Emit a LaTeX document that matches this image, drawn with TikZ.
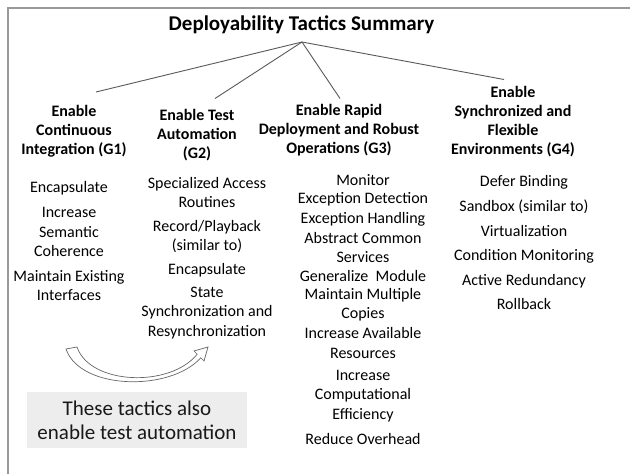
\documentclass[tikz,border=0pt]{standalone}
\usepackage{fontspec}
\setmainfont{Carlito}
\begin{document}
\begin{tikzpicture}[x=1pt,y=-1pt,
  ttl/.style={font=\fontsize{21}{25}\selectfont\bfseries, inner sep=0},
  hdr/.style={font=\fontsize{16}{18.8}\selectfont\bfseries, align=center, inner sep=0},
  itm/.style={font=\fontsize{16}{19.5}\selectfont, align=center, inner sep=0},
  conn/.style={draw=black!65, line width=0.9pt},
  framel/.style={draw=black!40, line width=2pt},
  notebox/.style={fill=black!7, minimum width=220pt, minimum height=56pt, inner sep=0,
     font=\fontsize{21}{24}\selectfont, align=center, text=black!90},
  curvedarrow/.style={draw=black!60, line width=0.7pt, fill=white}]
\useasboundingbox (0,0) rectangle (630,474);
\fill[white] (0,0) rectangle (630,474);
\draw[framel] (7.5,474) -- (7.5,7.5) -- (630,7.5);

\node[ttl] (title) at (301.5,25) {Deployability Tactics Summary};
\coordinate (apex) at (302,42);
\coordinate (e1) at (96,92);
\coordinate (e2) at (215,98.5);
\coordinate (e3) at (340,98.5);
\coordinate (e4) at (504,79.5);
\draw[conn] (apex) -- (e1);
\draw[conn] (apex) -- (e2);
\draw[conn] (apex) -- (e3);
\draw[conn] (apex) -- (e4);

\node[hdr] (g1) at (74,131.3) {Enable\\Continuous\\Integration (G1)};
\node[hdr] (g2) at (197,135) {Enable Test\\Automation\\(G2)};
\node[hdr] (g3) at (339,130.3) {Enable Rapid\\Deployment and Robust\\Operations (G3)};
\node[hdr] (g4) at (513,121.7) {Enable\\Synchronized and\\Flexible\\Environments (G4)};

% G1
\node[itm] (a1) at (69,188) {Encapsulate};
\node[itm] (a2) at (69,232) {Increase\\Semantic\\Coherence};
\node[itm] (a3) at (69,285.5) {Maintain Existing\\Interfaces};
% G2
\node[itm] (b1) at (207,192.5) {Specialized Access\\Routines};
\node[itm] (b2) at (207,236.5) {Record/Playback\\(similar to)};
\node[itm] (b3) at (207,270) {Encapsulate};
\node[itm] (b4) at (207,313) {State\\Synchronization and\\Resynchronization};
% G3
\node[itm] (c1) at (363,180) {Monitor};
\node[itm] (c2) at (363,199) {Exception Detection};
\node[itm] (c3) at (363,219) {Exception Handling};
\node[itm] (c4) at (363,247.5) {Abstract Common\\Services};
\node[itm] (c5) at (363,276) {Generalize\ \ Module};
\node[itm] (c6) at (363,304.5) {Maintain Multiple\\Copies};
\node[itm] (c7) at (363,343) {Increase Available\\Resources};
\node[itm] (c8) at (363,396) {Increase\\Computational\\Efficiency};
\node[itm] (c9) at (363,439) {Reduce Overhead};
% G4
\node[itm] (d1) at (524,182) {Defer Binding};
\node[itm] (d2) at (524,207) {Sandbox (similar to)};
\node[itm] (d3) at (524,231) {Virtualization};
\node[itm] (d4) at (524,256) {Condition Monitoring};
\node[itm] (d5) at (524,281) {Active Redundancy};
\node[itm] (d6) at (524,304) {Rollback};

% curved arrow
\draw[curvedarrow] (66,349) .. controls (80,390) and (170,392) .. (200.8,357.8)
  -- (204,361) -- (208,347) -- (194,351) -- (197.2,354.2)
  .. controls (170,388) and (90,385) .. (77,347) -- cycle;

\node[notebox] (note) at (137,420) {These tactics also\\enable test automation};
\end{tikzpicture}
\end{document}
